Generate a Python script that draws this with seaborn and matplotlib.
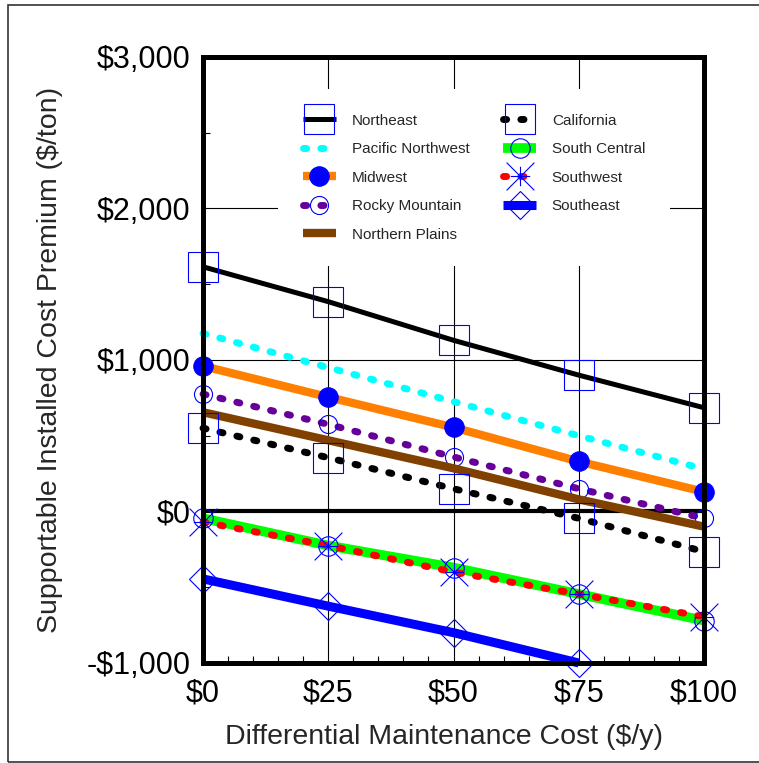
import numpy as np
import pandas as pd
import matplotlib
matplotlib.use('Agg')
import matplotlib.pyplot as plt
import seaborn as sns
from matplotlib.path import Path
from matplotlib.patches import Rectangle
from matplotlib.ticker import MultipleLocator

# data ($/ton vs $/y)
cost = [0, 25, 50, 75, 100]

northeast = [1615, 1385, 1130, 900, 685]
pacific_nw = [1175, 950, 725, 500, 280]
midwest = [960, 755, 555, 330, 130]
rocky_mtn = [775, 575, 360, 150, -45]
northern_plains = [655, 470, 285, 80, -100]
california = [550, 355, 150, -45, -265]
south_central = [-45, -225, -370, -545, -720]
southwest = [-70, -225, -400, -545, -695]
southeast = [-445, -625, -800, -1000, np.nan]

regions = ['Northeast', 'Pacific Northwest', 'Midwest', 'Rocky Mountain', 'Northern Plains',
           'California', 'South Central', 'Southwest', 'Southeast']
values = [northeast, pacific_nw, midwest, rocky_mtn, northern_plains,
          california, south_central, southwest, southeast]

xticks = [0, 25, 50, 75, 100]
xtick_labels = ['$0', '$25', '$50', '$75', '$100']
yticks = [-1000, 0, 1000, 2000, 3000]
ytick_labels = ['-$1,000', '$0', '$1,000', '$2,000', '$3,000']

df = pd.DataFrame({
    'region': np.repeat(regions, len(cost)),
    'cost': cost * len(regions),
    'premium': np.concatenate(values),
})

sns.set_style('white')
plt.rcParams['font.family'] = ['Liberation Sans', 'DejaVu Sans']

# asterisk marker: + with a longer x
star = Path([(-0.7, 0), (0.7, 0), (0, -0.7), (0, 0.7), (-1, -1), (1, 1), (-1, 1), (1, -1)],
            [Path.MOVETO, Path.LINETO] * 4)

BLUE = '#0000FF'
dot = (0, (0.45, 2.05))
styles = {
    'Northeast':         dict(color='black', lw=3.6, marker='s', ms=21, mfc='none'),
    'Pacific Northwest': dict(color='#00FFFF', lw=5, linestyle=dot, marker=None),
    'Midwest':           dict(color='#FF8000', lw=6, marker='o', ms=14, mfc=BLUE),
    'Rocky Mountain':    dict(color='#660099', lw=5, linestyle=dot, marker='o', ms=13, mfc='none'),
    'Northern Plains':   dict(color='#804000', lw=6, marker=None),
    'California':        dict(color='black', lw=5, linestyle=dot, marker='s', ms=21, mfc='none'),
    'South Central':     dict(color='#00FF00', lw=7, marker='o', ms=14, mfc='none'),
    'Southwest':         dict(color='#FF0000', lw=5, linestyle=dot, marker=star, ms=20, mfc='none'),
    'Southeast':         dict(color=BLUE, lw=6.5, marker='D', ms=14, mfc='none'),
}

fig = plt.figure(figsize=(7.59, 7.63), dpi=100)
ax = fig.add_axes([0.2675, 0.1311, 0.66, 0.7942])

for r in regions:
    st = dict(styles[r])
    sub = df[df['region'] == r].dropna()
    sns.lineplot(data=sub, x='cost', y='premium', ax=ax, label=r, errorbar=None,
                 mec=BLUE, mew=0.8, clip_on=False, dash_capstyle='round',
                 solid_capstyle='butt', **st)

ax.set_xlim(0, 100)
ax.set_ylim(-1000, 3000)
ax.set_xticks(xticks, xtick_labels)
ax.set_yticks(yticks, ytick_labels)
ax.xaxis.set_minor_locator(MultipleLocator(5))
ax.yaxis.set_minor_locator(MultipleLocator(500))
ax.tick_params(which='major', length=0, labelsize=22, colors='black')
ax.tick_params(axis='x', which='major', pad=11)
ax.tick_params(axis='y', which='major', pad=9)
ax.tick_params(which='minor', direction='in', length=5, width=0.8, color='black',
               bottom=True, left=True, top=False, right=False)

ax.grid(True, which='major', color='black', lw=0.8, zorder=0)
ax.axhline(0, color='black', lw=3, zorder=1)
for s in ax.spines.values():
    s.set_linewidth(3.6)
    s.set_color('black')

ax.set_xlabel('Differential Maintenance Cost ($/y)', fontsize=20.5)
ax.set_ylabel('Supportable Installed Cost Premium ($/ton)', fontsize=20.5)
ax.xaxis.set_label_coords(0.482, -0.1)
ax.yaxis.set_label_coords(-0.28, 0.5)

leg = ax.legend(ncol=2, loc='upper left', bbox_to_anchor=(0.15, 0.947), fontsize=11,
                frameon=True, facecolor='white', edgecolor='white', framealpha=1,
                fancybox=False, borderaxespad=0, borderpad=1.6, handlelength=2.2,
                handletextpad=1.0, columnspacing=2.2, labelspacing=0.95)
leg.get_frame().set_linewidth(0)

fig.add_artist(Rectangle((8 / 759, 1 / 763), 1.0, 757 / 763, transform=fig.transFigure,
                         fill=False, lw=1.2, edgecolor='#333333'))

fig.savefig('out.png', dpi=100, facecolor='white')
